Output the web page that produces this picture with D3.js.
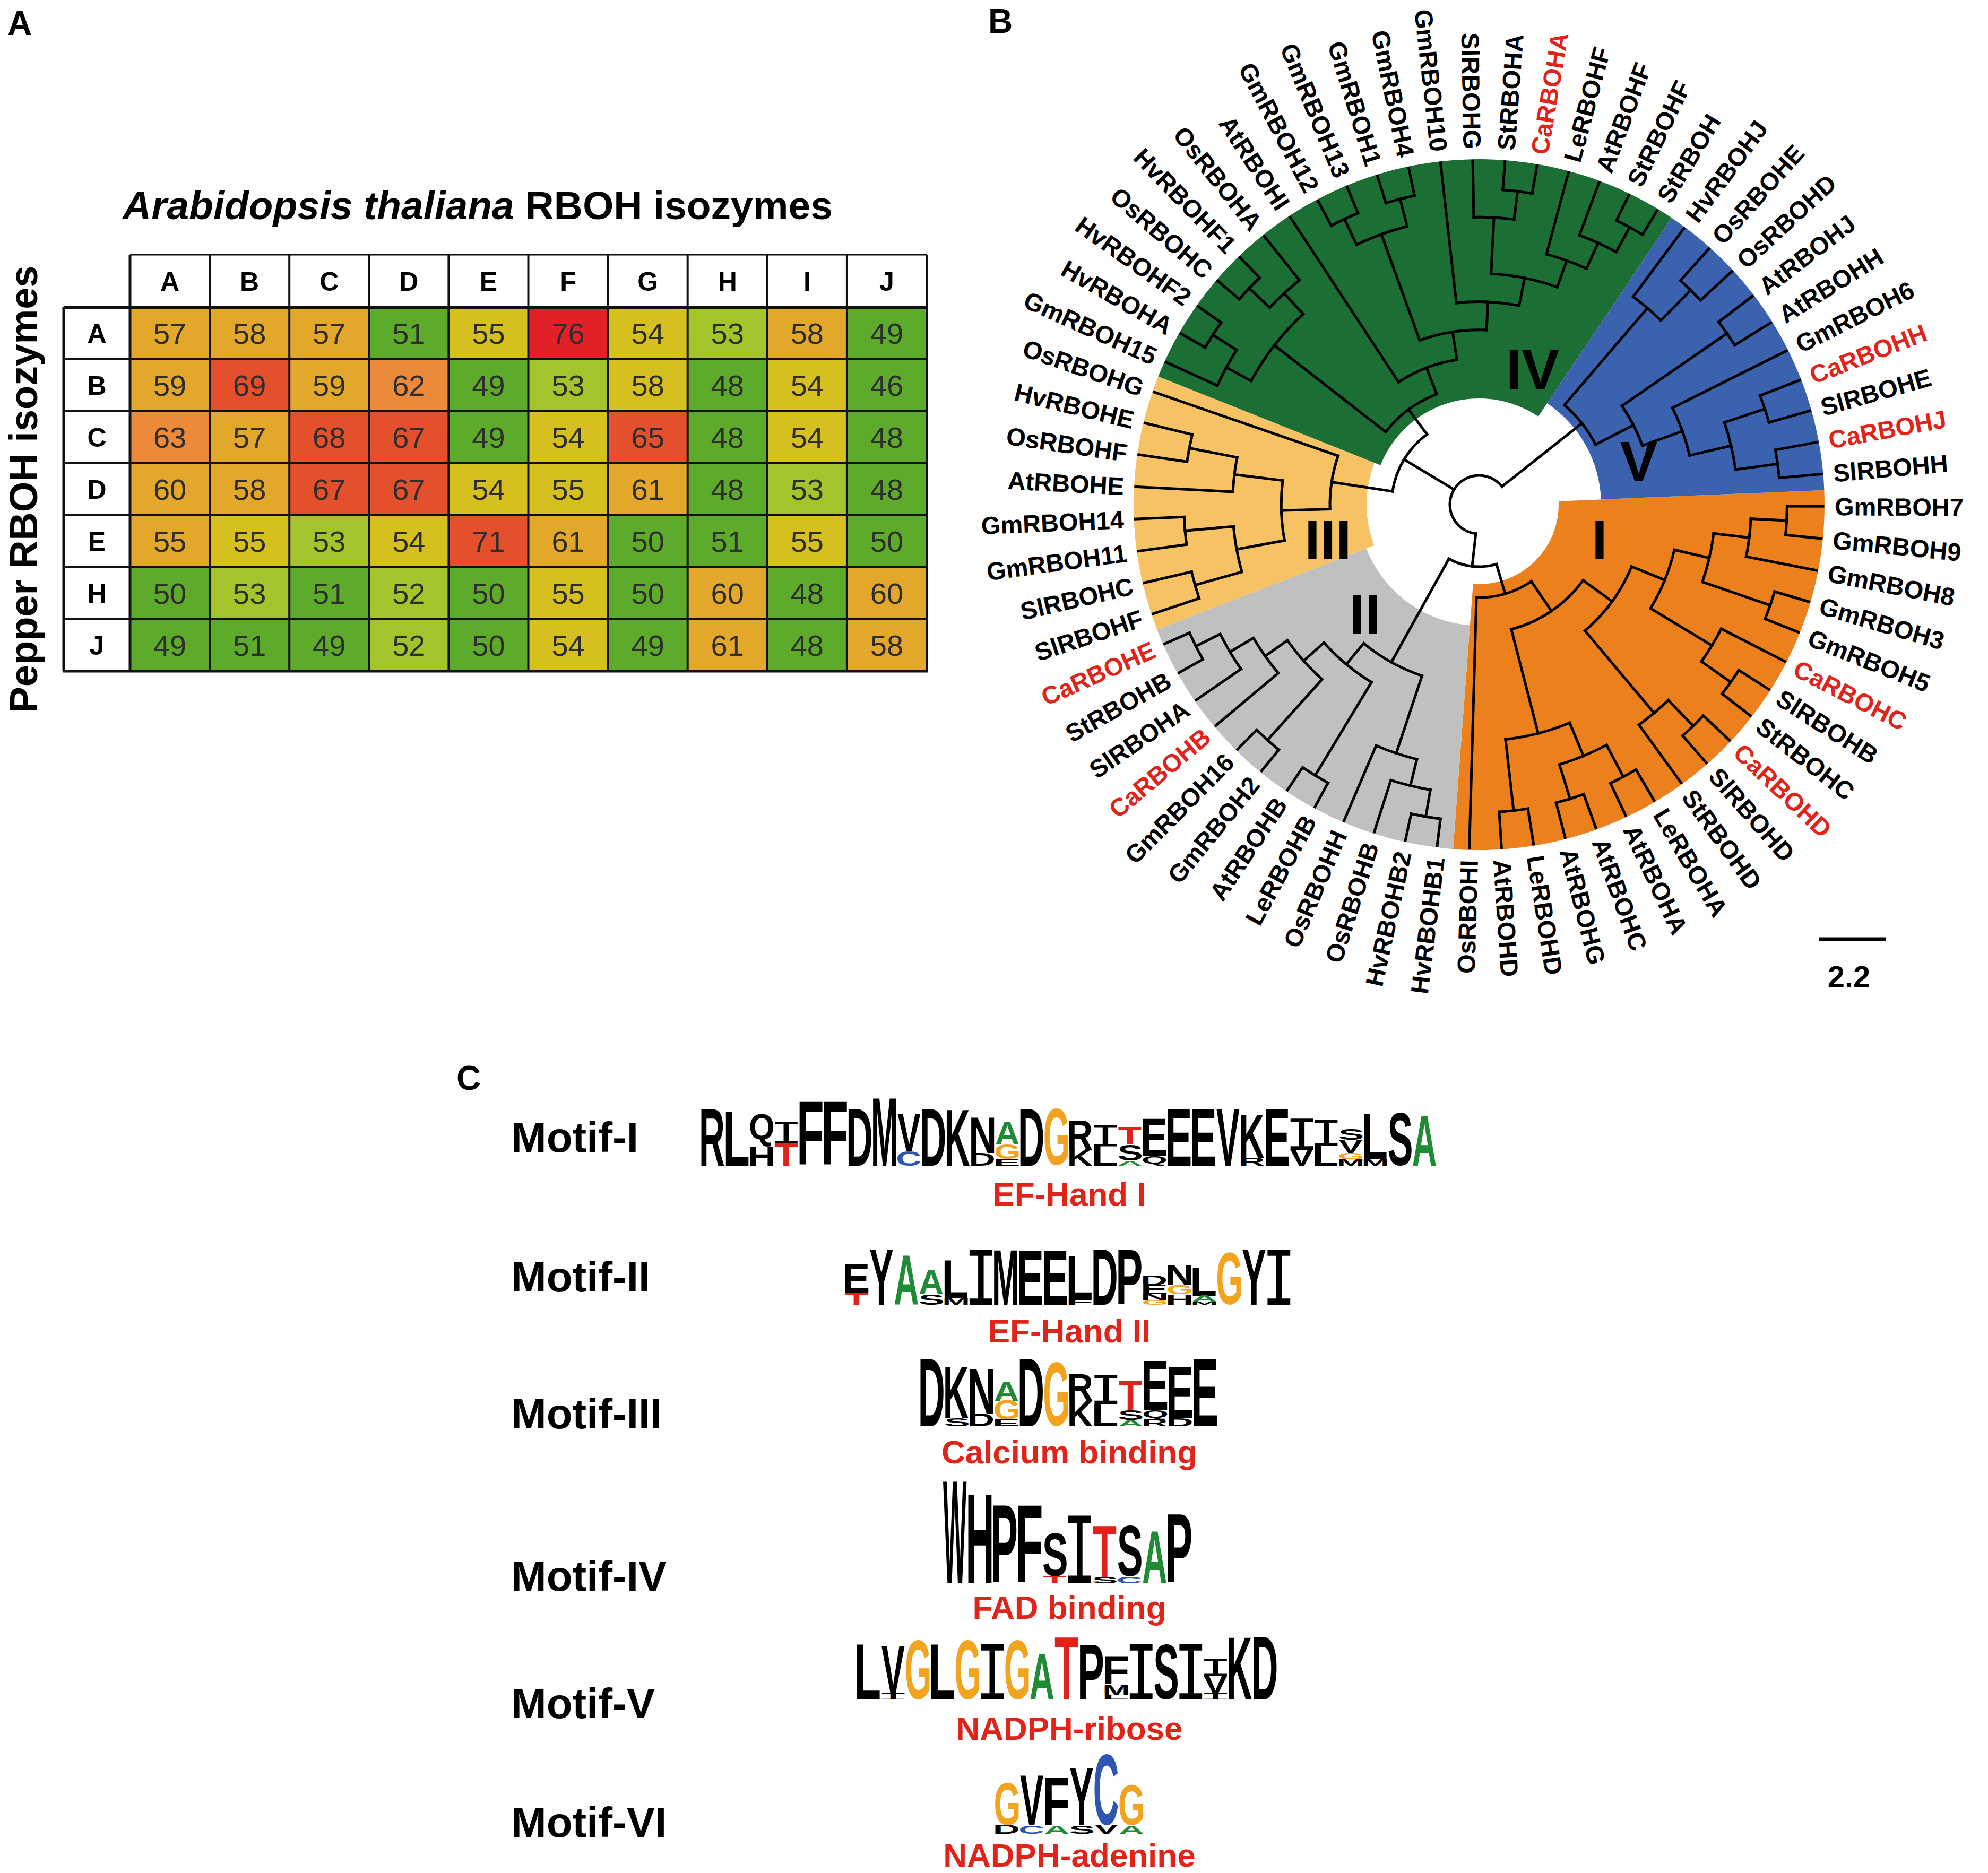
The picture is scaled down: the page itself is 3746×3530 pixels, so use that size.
<!DOCTYPE html>
<html>
<head>
<meta charset="utf-8">
<script src="https://cdn.jsdelivr.net/npm/d3@7"></script>
<style>
html, body { margin: 0; padding: 0; background: #fff; }
svg { display: block; }
text { font-family: "Liberation Sans", Arial, sans-serif; }
</style>
</head>
<body>
<svg id="fig" width="3746" height="3530"></svg>
<script>
// ---------- panel A : identity table
var atCols = ["A", "B", "C", "D", "E", "F", "G", "H", "I", "J"]
var pepRows = ["A", "B", "C", "D", "E", "H", "J"]
var identity = [
  [57, 58, 57, 51, 55, 76, 54, 53, 58, 49],
  [59, 69, 59, 62, 49, 53, 58, 48, 54, 46],
  [63, 57, 68, 67, 49, 54, 65, 48, 54, 48],
  [60, 58, 67, 67, 54, 55, 61, 48, 53, 48],
  [55, 55, 53, 54, 71, 61, 50, 51, 55, 50],
  [50, 53, 51, 52, 50, 55, 50, 60, 48, 60],
  [49, 51, 49, 52, 50, 54, 49, 61, 48, 58]
]
// colour class of every cell as shown in the figure (0 = green ... 6 = red)
var shadeClass = [
  [3, 3, 3, 0, 2, 6, 2, 1, 3, 0],
  [3, 5, 3, 4, 0, 1, 2, 0, 2, 0],
  [4, 3, 5, 5, 0, 2, 5, 0, 2, 0],
  [3, 3, 5, 5, 2, 2, 3, 0, 1, 0],
  [3, 2, 1, 2, 5, 3, 0, 0, 2, 0],
  [0, 1, 0, 1, 0, 2, 0, 3, 0, 3],
  [0, 0, 0, 1, 0, 2, 0, 3, 0, 3]
]

// ---------- panel B : tree (leaves listed clockwise)
var cladeI = [
  [
    [
      [[[["GmRBOH7", "GmRBOH9"], "GmRBOH8"], ["GmRBOH3", "GmRBOH5"]], ["CaRBOHC", ["SlRBOHB", "StRBOHC"]]],
      [["CaRBOHD", "SlRBOHD"], "StRBOHD"]
    ],
    [[["LeRBOHA", "AtRBOHA"], ["AtRBOHC", "AtRBOHG"]], ["LeRBOHD", "AtRBOHD"]]
  ],
  "OsRBOHI"
]
var cladeII = [
  [[["HvRBOHB1", "HvRBOHB2"], "OsRBOHB"], "OsRBOHH"],
  [["LeRBOHB", "AtRBOHB"], [["GmRBOH2", "GmRBOH16"], ["CaRBOHB", ["SlRBOHA", ["StRBOHB", "CaRBOHE"]]]]]
]
var cladeIII = [
  [[["SlRBOHF", "SlRBOHC"], ["GmRBOH11", "GmRBOH14"]], ["AtRBOHE", ["OsRBOHF", "HvRBOHE"]]],
  "OsRBOHG"
]
var cladeIV = [
  [["GmRBOH15", ["HvRBOHA", "HvRBOHF2"]], [["OsRBOHC", "HvRBOHF1"], "OsRBOHA"]],
  ["AtRBOHI",
    [[["GmRBOH12", "GmRBOH13"], ["GmRBOH1", "GmRBOH4"]],
     ["GmRBOH10", [["SlRBOHG", ["StRBOHA", "CaRBOHA"]], ["LeRBOHF", ["AtRBOHF", ["StRBOHF", "StRBOH"]]]]]]]
]
var cladeV = [
  ["HvRBOHJ", ["OsRBOHE", "OsRBOHD"]],
  [["AtRBOHJ", "AtRBOHH"], ["GmRBOH6", [["CaRBOHH", "SlRBOHE"], ["CaRBOHJ", "SlRBOHH"]]]]
]
var cladeNames = ["I", "II", "III", "IV", "V"]
var scaleBarLabel = "2.2"

// ---------- panel C : motif logos, each column listed top to bottom as [residue, bits]
var motifNames = ["Motif-I", "Motif-II", "Motif-III", "Motif-IV", "Motif-V", "Motif-VI"]
var motifSites = ["EF-Hand I", "EF-Hand II", "Calcium binding", "FAD binding", "NADPH-ribose", "NADPH-adenine"]
var motif1 = [
  [["R", 3.5]], [["L", 3.3]], [["Q", 2.0], ["H", 1.2]], [["I", 1.3], ["T", 1.4]], [["F", 3.95]], [["F", 3.95]],
  [["D", 3.5]], [["M", 4.2]], [["V", 2.3], ["C", 0.9]], [["D", 3.5]], [["K", 3.5]], [["N", 2.2], ["D", 0.8]],
  [["A", 1.4], ["G", 0.9], ["E", 0.4]], [["D", 3.5]], [["G", 3.5]], [["R", 1.8], ["K", 1.0]], [["I", 1.3], ["L", 1.2]],
  [["T", 1.1], ["S", 1.0], ["A", 0.3]], [["E", 2.3], ["Q", 0.6]], [["E", 3.5]], [["E", 3.5]], [["V", 3.5]],
  [["K", 2.7], ["R", 0.5]], [["E", 3.5]], [["I", 1.9], ["V", 1.0]], [["I", 1.6], ["L", 1.2]],
  [["S", 0.7], ["V", 0.8], ["G", 0.4], ["M", 0.4]], [["L", 2.8], ["M", 0.4]], [["S", 3.3]], [["A", 3.1]]
]
var motif2 = [
  [["E", 2.2], ["T", 0.9]], [["Y", 4.2]], [["A", 3.8]], [["A", 1.9], ["S", 0.8]], [["L", 2.9], ["M", 0.5]],
  [["I", 4.2]], [["M", 4.2]], [["E", 4.1]], [["E", 4.1]], [["L", 3.3], ["F", 0.4]], [["D", 4.2]], [["P", 4.2]],
  [["D", 0.7], ["E", 0.7], ["N", 0.45], ["G", 0.35]], [["N", 1.5], ["G", 0.7], ["H", 0.8]],
  [["L", 2.1], ["A", 0.45], ["M", 0.25]], [["G", 4.0]], [["Y", 4.2]], [["I", 4.2]]
]
var motif3 = [
  [["D", 4.2]], [["K", 3.2], ["S", 0.5]], [["N", 2.8], ["D", 0.8]], [["A", 1.2], ["G", 1.2], ["E", 0.4]],
  [["D", 4.2]], [["G", 4.0]], [["R", 1.65], ["K", 1.6]], [["I", 1.8], ["L", 1.4]],
  [["T", 1.9], ["S", 0.6], ["A", 0.4]], [["E", 3.1], ["Q", 0.6], ["R", 0.4]], [["E", 3.2], ["D", 0.5]], [["E", 4.2]]
]
var motif4 = [
  [["W", 4.2]], [["H", 3.7]], [["P", 3.2]], [["F", 3.2]], [["S", 1.8], ["T", 0.27]], [["I", 2.8]],
  [["T", 2.15], ["S", 0.25]], [["S", 2.1], ["C", 0.27]], [["A", 2.15]], [["P", 2.85]]
]
var motif5 = [
  [["L", 3.7]], [["V", 3.2], ["I", 0.4]], [["G", 4.0]], [["L", 3.7]], [["G", 4.0]], [["I", 3.7]], [["G", 4.0]],
  [["A", 3.1]], [["T", 4.2]], [["P", 3.7]], [["F", 1.9], ["M", 0.7], ["L", 0.3]], [["I", 3.7]], [["S", 3.7]],
  [["I", 3.7]], [["I", 1.1], ["V", 1.2], ["I", 0.4]], [["K", 4.2]], [["D", 4.2]]
]
var motif6 = [
  [["G", 2.25], ["D", 0.45]], [["V", 2.6], ["C", 0.45]], [["F", 2.5], ["A", 0.45]],
  [["Y", 3.0], ["S", 0.45]], [["C", 3.75], ["V", 0.45]], [["G", 2.15], ["A", 0.45]]
]
var motifs = [motif1, motif2, motif3, motif4, motif5, motif6]

// ======================================================================
var svg = d3.select("#fig")
var red = "#e2231a"

function panelLetter(t, x, y) {
  svg.append("text").attr("x", x).attr("y", y).text(t)
    .attr("font-size", 64).attr("font-weight", "bold")
}
panelLetter("A", 14, 66)
panelLetter("B", 1862, 62)
panelLetter("C", 860, 2054)

// ---------------- panel A
var gA = svg.append("g")
var tableLeft = 120, dataLeft = 245, tableRight = 1746, tableTop = 480, headBottom = 579, tableBottom = 1265

var title = gA.append("text").attr("x", 900).attr("y", 413).attr("text-anchor", "middle")
  .attr("font-size", 75).attr("font-weight", "bold")
title.append("tspan").attr("font-style", "italic").text("Arabidopsis thaliana")
title.append("tspan").text(" RBOH isozymes")

gA.append("text").attr("transform", "translate(70,922) rotate(-90)")
  .attr("text-anchor", "middle").attr("font-size", 74).attr("font-weight", "bold")
  .text("Pepper RBOH isozymes")

var xCol = d3.scaleBand().domain(atCols).range([dataLeft, tableRight])
var yRow = d3.scaleBand().domain(pepRows).range([headBottom, tableBottom])
var shade = d3.scaleOrdinal().domain([0, 1, 2, 3, 4, 5, 6])
  .range(["#5eaa2a", "#a3c42a", "#d6c01f", "#e2a72b", "#ec8a3a", "#e4502c", "#e12127"])

var cells = []
pepRows.forEach(function(r, i) {
  atCols.forEach(function(c, j) {
    cells.push({row: r, col: c, v: identity[i][j], k: shadeClass[i][j]})
  })
})
gA.selectAll("rect.cell").data(cells).enter().append("rect")
  .attr("x", function(d) { return xCol(d.col) })
  .attr("y", function(d) { return yRow(d.row) })
  .attr("width", xCol.bandwidth())
  .attr("height", yRow.bandwidth())
  .attr("fill", function(d) { return shade(d.k) })
gA.selectAll("text.val").data(cells).enter().append("text")
  .attr("x", function(d) { return xCol(d.col) + xCol.bandwidth() / 2 })
  .attr("y", function(d) { return yRow(d.row) + yRow.bandwidth() / 2 + 20 })
  .attr("text-anchor", "middle").attr("font-size", 56).attr("fill", "#2e2e2e")
  .text(function(d) { return d.v })

gA.selectAll("text.colh").data(atCols).enter().append("text")
  .attr("x", function(d) { return xCol(d) + xCol.bandwidth() / 2 })
  .attr("y", (tableTop + headBottom) / 2 + 18)
  .attr("text-anchor", "middle").attr("font-size", 50).attr("font-weight", "bold")
  .text(function(d) { return d })
gA.selectAll("text.rowh").data(pepRows).enter().append("text")
  .attr("x", (tableLeft + dataLeft) / 2)
  .attr("y", function(d) { return yRow(d) + yRow.bandwidth() / 2 + 18 })
  .attr("text-anchor", "middle").attr("font-size", 50).attr("font-weight", "bold")
  .text(function(d) { return d })

// grid
var grid = gA.append("g").attr("stroke", "#111")
grid.append("line").attr("x1", dataLeft).attr("x2", tableRight).attr("y1", tableTop).attr("y2", tableTop).attr("stroke-width", 3)
pepRows.forEach(function(r, i) {
  grid.append("line").attr("x1", tableLeft).attr("x2", tableRight)
    .attr("y1", yRow(r)).attr("y2", yRow(r)).attr("stroke-width", i == 0 ? 6 : 4)
})
grid.append("line").attr("x1", tableLeft - 2).attr("x2", tableRight + 2)
  .attr("y1", tableBottom).attr("y2", tableBottom).attr("stroke-width", 5)
grid.append("line").attr("x1", tableLeft).attr("x2", tableLeft)
  .attr("y1", headBottom).attr("y2", tableBottom).attr("stroke-width", 5)
atCols.forEach(function(c, j) {
  grid.append("line").attr("x1", xCol(c)).attr("x2", xCol(c))
    .attr("y1", tableTop).attr("y2", tableBottom).attr("stroke-width", j == 0 ? 5 : 4)
})
grid.append("line").attr("x1", tableRight).attr("x2", tableRight)
  .attr("y1", tableTop).attr("y2", tableBottom).attr("stroke-width", 4)

// ---------------- panel B
var cx = 2787, cy = 951, rLeaf = 648, rLabel = 670, angle0 = 87.6
var gB = svg.append("g")
var cladeFill = {I: "#ec801d", II: "#c0c0c0", III: "#f6c263", IV: "#1c6f34", V: "#3a62ae"}
var cladeRootR = {I: 175, II: 340, III: 281, IV: 223, V: 247}
var wedgeInnerR = {I: 150, II: 228, III: 212, IV: 200, V: 230}
var cladeTag = {I: [106, 236], II: [226.2, 298], III: [257.1, 292], IV: [21.5, 275], V: [74.6, 312]}

var root = d3.hierarchy([[cladeI, cladeII], [cladeIII, cladeIV], cladeV],
  function(d) { return Array.isArray(d) ? d : null })
d3.cluster().size([360, 1]).separation(function() { return 1 })(root)
var step = 360 / root.leaves().length

function ang(n) { return angle0 + n.x }
function pt(a, r) {
  var t = a * Math.PI / 180
  return [cx + r * Math.sin(t), cy - r * Math.cos(t)]
}

var cladeNodes = [root.children[0].children[0], root.children[0].children[1],
  root.children[1].children[0], root.children[1].children[1], root.children[2]]
root.r = 55
root.children[0].r = 117
root.children[1].r = 165
cladeNodes.forEach(function(c, i) {
  var R = cladeRootR[cladeNames[i]]
  c.descendants().forEach(function(n) {
    n.r = n.children ? rLeaf - (rLeaf - R) * n.height / c.height : rLeaf
  })
})

// coloured clade sectors
var wedge = d3.arc()
cladeNodes.forEach(function(c, i) {
  var lv = c.leaves()
  gB.append("path")
    .attr("transform", "translate(" + cx + "," + cy + ")")
    .attr("d", wedge({
      innerRadius: wedgeInnerR[cladeNames[i]], outerRadius: rLeaf + 3,
      startAngle: (ang(lv[0]) - step / 2) * Math.PI / 180,
      endAngle: (ang(lv[lv.length - 1]) + step / 2) * Math.PI / 180
    }))
    .attr("fill", cladeFill[cladeNames[i]])
})

// branches
var branches = gB.append("g").attr("fill", "none").attr("stroke", "#000")
  .attr("stroke-width", 5).attr("stroke-linecap", "square").attr("stroke-linejoin", "miter")
root.links().forEach(function(l) {
  var a = ang(l.target), p0 = pt(a, l.source.r), p1 = pt(a, l.target.r)
  branches.append("path").attr("d", "M" + p0 + "L" + p1)
})
root.descendants().filter(function(n) { return n.children }).forEach(function(n) {
  var a0 = ang(n.children[0]), a1 = ang(n.children[n.children.length - 1])
  var p0 = pt(a0, n.r), p1 = pt(a1, n.r)
  branches.append("path").attr("d", "M" + p0 + "A" + n.r + "," + n.r + " 0 " + (a1 - a0 > 180 ? 1 : 0) + " 1 " + p1)
})

// leaf labels
root.leaves().forEach(function(n) {
  var a = ang(n), am = ((a % 360) + 360) % 360
  var right = am > 0 && am < 180
  gB.append("text")
    .attr("transform", "translate(" + cx + "," + cy + ") rotate(" + (a - 90) + ") translate(" + rLabel + ",0)" + (right ? "" : " rotate(180)"))
    .attr("text-anchor", right ? "start" : "end").attr("dy", "0.36em")
    .attr("font-size", 47).attr("font-weight", "bold")
    .attr("fill", n.data.indexOf("Ca") == 0 ? red : "#000")
    .text(n.data)
})

// clade numerals
cladeNames.forEach(function(nm) {
  var p = pt(cladeTag[nm][0], cladeTag[nm][1])
  gB.append("text").attr("x", p[0]).attr("y", p[1] + 38).attr("text-anchor", "middle")
    .attr("font-size", 106).attr("font-weight", "bold").text(nm)
})

// scale bar
gB.append("line").attr("x1", 3428).attr("x2", 3553).attr("y1", 1770).attr("y2", 1770)
  .attr("stroke", "#000").attr("stroke-width", 7)
gB.append("text").attr("x", 3484).attr("y", 1861).attr("text-anchor", "middle")
  .attr("font-size", 58).attr("font-weight", "bold").text(scaleBarLabel)

// ---------------- panel C
var gC = svg.append("g")
var logoBox = [
  {x0: 1321, x1: 2706, base: 2197, h: 128, label: 2171, site: 2272},
  {x0: 1592, x1: 2432, base: 2459, h: 104, label: 2434, site: 2530},
  {x0: 1734, x1: 2293, base: 2688, h: 127, label: 2692, site: 2758},
  {x0: 1777, x1: 2245, base: 2984, h: 192, label: 2998, site: 3051},
  {x0: 1614, x1: 2406, base: 3203, h: 118, label: 3238, site: 3279},
  {x0: 1875, x1: 2154, base: 3456, h: 150, label: 3462, site: 3518}
]
var letterColor = {A: "#1f8c35", G: "#f2a31f", T: "#e3211b", C: "#2c56b2"}
var ctx = document.createElement("canvas").getContext("2d")
function inkBox(ch, font) {
  ctx.font = font
  var m = ctx.measureText(ch)
  return {l: m.actualBoundingBoxLeft, r: m.actualBoundingBoxRight, a: m.actualBoundingBoxAscent, d: m.actualBoundingBoxDescent}
}

function drawLogo(cols, box) {
  var x = d3.scaleBand().domain(d3.range(cols.length)).range([box.x0, box.x1]).paddingInner(0.05)
  var y = d3.scaleLinear().domain([0, 4.2]).range([0, box.h])
  cols.forEach(function(stack, i) {
    var top = box.base - d3.sum(stack, function(d) { return y(d[1]) })
    stack.forEach(function(d) {
      var hh = y(d[1])
      var font = d[0] == "I" ? "100px 'DejaVu Sans Mono'" : "bold 100px 'Liberation Sans'"
      var b = inkBox(d[0], font)
      var sx = x.bandwidth() / (b.l + b.r), sy = hh / (b.a + b.d)
      gC.append("text").text(d[0])
        .attr("transform", "translate(" + (x(i) + b.l * sx) + "," + (top + b.a * sy) + ") scale(" + sx + "," + sy + ")")
        .style("font", font)
        .attr("fill", letterColor[d[0]] || "#000")
      top += hh
    })
  })
}

motifs.forEach(function(m, i) {
  var box = logoBox[i]
  drawLogo(m, box)
  gC.append("text").attr("x", 963).attr("y", box.label)
    .attr("font-size", 80).attr("font-weight", "bold").text(motifNames[i])
  gC.append("text").attr("x", 2015).attr("y", box.site).attr("text-anchor", "middle")
    .attr("font-size", 62).attr("font-weight", "bold").attr("fill", red).text(motifSites[i])
})
</script>
</body>
</html>
